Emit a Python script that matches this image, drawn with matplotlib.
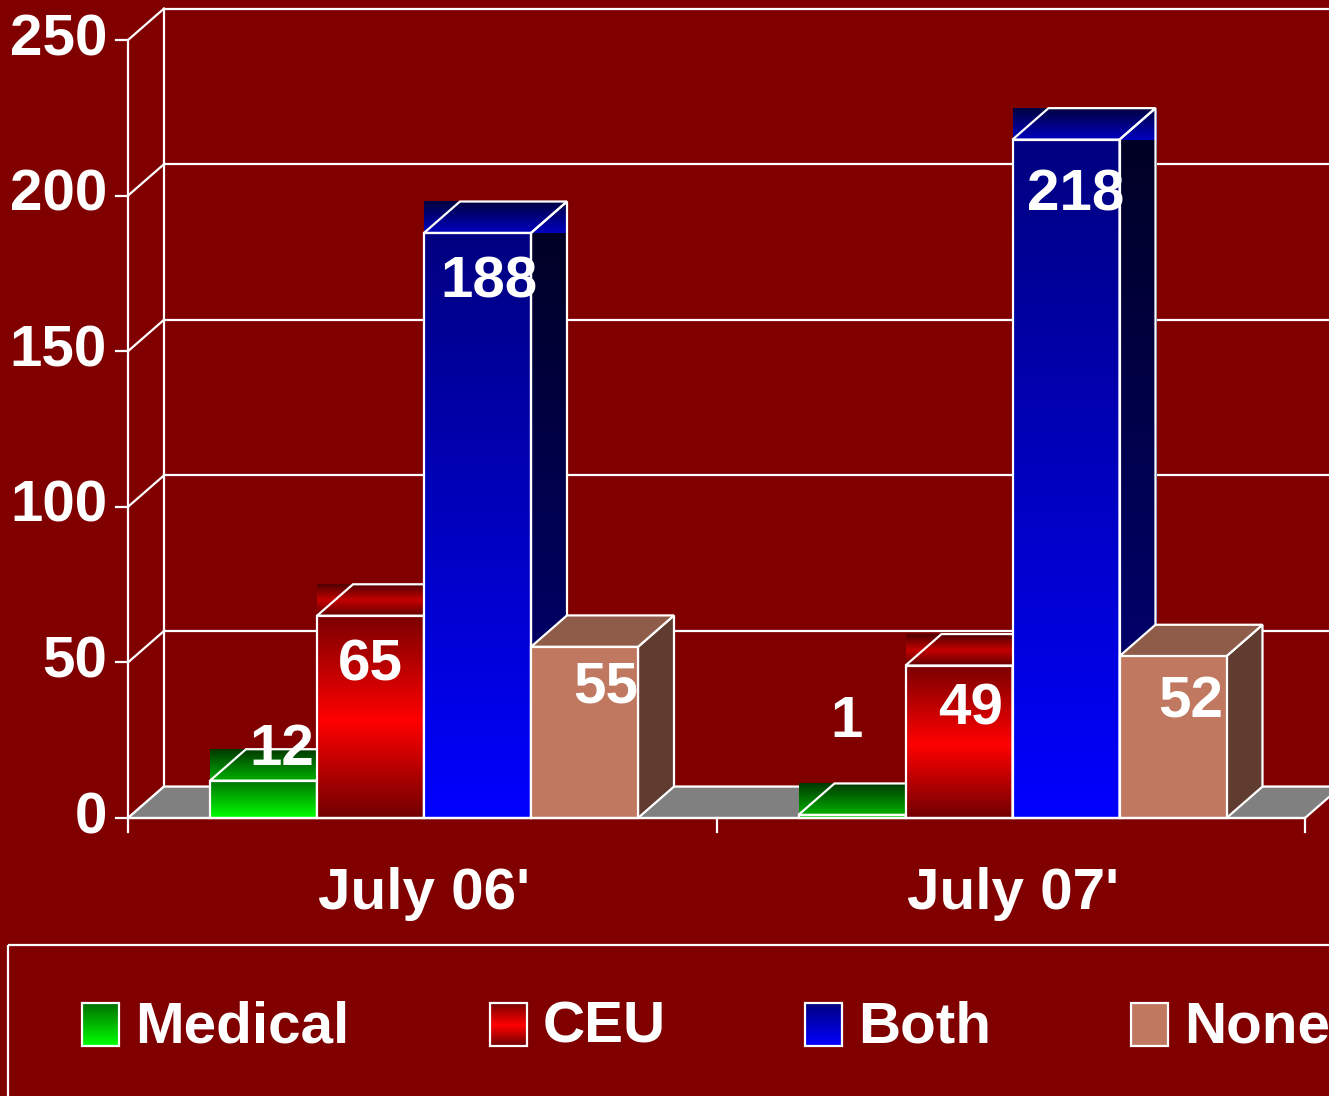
import numpy as np
import matplotlib
matplotlib.use("Agg")
import matplotlib.pyplot as plt
from matplotlib.colors import LinearSegmentedColormap
from matplotlib.patches import Polygon, Rectangle

plt.rcParams['font.family'] = ['Liberation Sans', 'DejaVu Sans']
plt.rcParams['font.weight'] = 'bold'

# ---------------- data ----------------
categories = ["July 06'", "July 07'"]
series = ["Medical", "CEU", "Both", "None"]
medical = [12, 1]
ceu = [65, 49]
both = [188, 218]
none = [55, 52]
yticks = [0, 50, 100, 150, 200, 250]

values = [medical, ceu, both, none]
# label placement tweaks (value units vertically, pixels horizontally)
label_offsets = [[10, 30], [-16, -14], [-16, -18], [-13, -15]]
label_dx_px = [[18, -5], [0, 12], [11, 10], [21, 18]]

# ---------------- style ----------------
BG = '#800000'
W = 'white'
FS = 42
styles = {
    'Medical': dict(front=[(0, '#00FF00'), (1, '#007000')],
                    top=[(0, '#00B000'), (1, '#003800')],
                    side=[(0, '#006000'), (1, '#003000')], grad=True),
    'CEU': dict(front=[(0, '#700000'), (0.48, '#FF0000'), (1, '#7A0000')],
                top=[(0, '#600000'), (0.5, '#C40000'), (1, '#500000')],
                side=[(0, '#400000'), (1, '#200000')], grad=True),
    'Both': dict(front=[(0, '#0000FF'), (1, '#000080')],
                 top=[(0, '#0000C0'), (1, '#000040')],
                 side=[(0, '#000080'), (1, '#000020')], grad=True),
    'None': dict(front='#C07860', top='#905C4A', side='#603C30', grad=False),
}

fig = plt.figure(figsize=(13.29, 10.96), dpi=100, facecolor=BG)
FW, FH = 1329, 1096
ax = fig.add_axes([128 / FW, (FH - 818) / FH, (1305 - 128) / FW, (818 - 40) / FH])
ax.set_facecolor('none')
ax.set_xlim(0, 2)
ax.set_ylim(0, 250)
ax.axis('off')

PXX = 588.5          # pixels per x unit
dx = 36 / PXX        # depth offset in x data units
dy = 10.1            # depth offset in y data units
bw = 107 / PXX       # bar width
gstart = 82 / PXX    # offset of first bar in a category
lw = 1.6


def grad_img(x0, x1, y0, y1, stops, z):
    cmap = LinearSegmentedColormap.from_list('g', stops)
    arr = cmap(np.linspace(0, 1, 256))[:, None, :3]
    ax.imshow(arr, extent=[x0, x1, y0, y1], origin='lower', aspect='auto',
              interpolation='bilinear', zorder=z, clip_on=False)


def line(xs, ys, z=3, **kw):
    ax.plot(xs, ys, color=W, lw=lw, zorder=z, clip_on=False,
            solid_capstyle='projecting', **kw)


# ---------------- walls / floor ----------------
xmax_vis = 2.0 + 40 / PXX
ax.add_patch(Polygon([(0, 0), (2, 0), (2 + dx, dy), (dx, dy)], closed=True,
                     facecolor='#808080', edgecolor=W, lw=lw, zorder=2, clip_on=False))
for t in yticks:
    line([dx, xmax_vis + 1], [t + dy, t + dy], z=1)
    line([0, dx], [t, t + dy], z=1)
line([dx, dx], [dy, 250 + dy], z=1)
line([2 + dx, 2 + dx], [dy, 250 + dy], z=1)
line([0, 0], [0, 250], z=1)
line([0, 2], [0, 0], z=60)
for t in yticks:
    line([-12 / PXX, 0], [t, t], z=1)
    ax.text(-21 / PXX, t, str(t), color=W, fontsize=FS, fontweight='bold',
            ha='right', va='center')
for i in range(3):
    line([i, i], [0, -14 / 3.112], z=60)

# ---------------- bars ----------------
z = 10
for g in range(len(categories)):
    for s, name in enumerate(series):
        v = values[s][g]
        st = styles[name]
        x0 = g + gstart + s * bw
        x1 = x0 + bw
        front = [(x0, 0), (x1, 0), (x1, v), (x0, v)]
        top = [(x0, v), (x1, v), (x1 + dx, v + dy), (x0 + dx, v + dy)]
        side = [(x1, 0), (x1 + dx, dy), (x1 + dx, v + dy), (x1, v)]
        if st['grad']:
            grad_img(x1, x1 + dx, 0, v + dy, st['side'], z)
            grad_img(x0, x1 + dx, v, v + dy, st['top'], z + 1)
            grad_img(x0, x1, 0, v, st['front'], z + 2)
            for poly in (side, top, front):
                ax.add_patch(Polygon(poly, closed=True, facecolor='none',
                                     edgecolor=W, lw=lw, zorder=z + 3, clip_on=False))
        else:
            ax.add_patch(Polygon(side, closed=True, facecolor=st['side'],
                                 edgecolor=W, lw=lw, zorder=z, clip_on=False))
            ax.add_patch(Polygon(top, closed=True, facecolor=st['top'],
                                 edgecolor=W, lw=lw, zorder=z + 1, clip_on=False))
            ax.add_patch(Polygon(front, closed=True, facecolor=st['front'],
                                 edgecolor=W, lw=lw, zorder=z + 2, clip_on=False))
        z += 5

# value labels
for g in range(len(categories)):
    for s, name in enumerate(series):
        v = values[s][g]
        xc = g + gstart + s * bw + bw / 2 + label_dx_px[s][g] / PXX
        ax.text(xc, v + label_offsets[s][g], str(v), color=W, fontsize=FS,
                fontweight='bold', ha='center', va='center', zorder=100)

# category labels
for g, c in enumerate(categories):
    ax.text(g + gstart + 2 * bw, -24.5, c, color=W, fontsize=FS, fontweight='bold',
            ha='center', va='center', zorder=100)

# ---------------- legend ----------------
lax = fig.add_axes([0, 0, 1, 1])
lax.set_xlim(0, FW)
lax.set_ylim(FH, 0)
lax.axis('off')
lax.set_zorder(200)
lax.add_patch(Rectangle((8, 945), FW + 20, 200, facecolor='none', edgecolor=W,
                        lw=lw, clip_on=False))
leg_x = [82, 490, 805, 1131]
for s, name in enumerate(series):
    st = styles[name]
    x0, y0, w, h = leg_x[s], 1003, 37, 43
    if st['grad']:
        cmap = LinearSegmentedColormap.from_list('g', st['front'])
        arr = cmap(np.linspace(0, 1, 64))[:, None, :3]
        lax.imshow(arr, extent=[x0, x0 + w, y0 + h, y0], origin='lower',
                   aspect='auto', interpolation='bilinear')
        lax.add_patch(Rectangle((x0, y0), w, h, facecolor='none', edgecolor=W, lw=lw))
    else:
        lax.add_patch(Rectangle((x0, y0), w, h, facecolor=st['front'], edgecolor=W, lw=lw))
    lax.text(x0 + w + 16, y0 + h / 2 + 3, name, color=W, fontsize=FS,
             fontweight='bold', ha='left', va='center')
lax.set_xlim(0, FW)
lax.set_ylim(FH, 0)

ax.set_xlim(0, 2)
ax.set_ylim(0, 250)
fig.savefig('out.png', dpi=100, facecolor=BG)
